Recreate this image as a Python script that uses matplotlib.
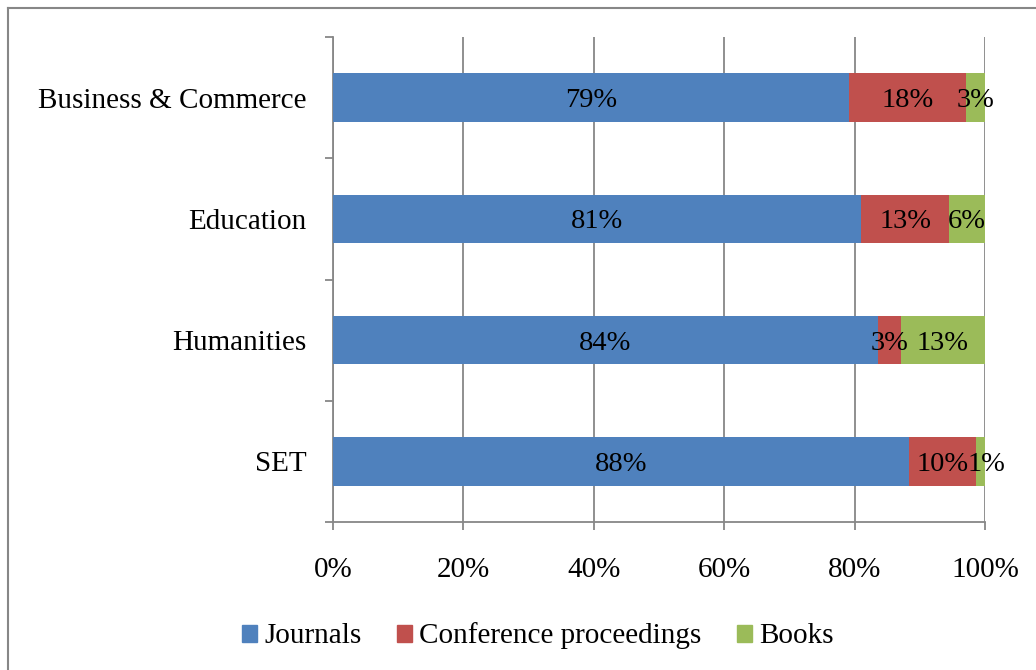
import matplotlib
matplotlib.use("Agg")
import matplotlib.pyplot as plt
from matplotlib.lines import Line2D
import numpy as np

categories = ["SET", "Humanities", "Education", "Business & Commerce"]
journals = [88.3, 83.6, 81.0, 79.1]
conference = [10.3, 3.5, 13.5, 18.0]
books = [1.4, 12.9, 5.5, 2.9]
journal_labels = ["88%", "84%", "81%", "79%"]
conference_labels = ["10%", "3%", "13%", "18%"]
book_labels = ["1%", "13%", "6%", "3%"]
series_names = ["Journals", "Conference proceedings", "Books"]
colors = ["#4F81BD", "#C0504D", "#9BBB59"]
xticks = [0, 20, 40, 60, 80, 100]
xtick_labels = ["0%", "20%", "40%", "60%", "80%", "100%"]

plt.rcParams['font.family'] = ['Liberation Serif', 'DejaVu Serif']
FS = 21

fig = plt.figure(figsize=(10.36, 6.70), dpi=100)
ax = fig.add_axes([333/1036, 1-522/670, (985-333)/1036, (522-37)/670])

data = np.array([journals, conference, books], dtype=float)
totals = data.sum(axis=0)
pct = data / totals * 100
y = np.arange(len(categories))
left = np.zeros(len(categories))
labels = [journal_labels, conference_labels, book_labels]
for i in range(3):
    bars = ax.barh(y, pct[i], left=left, height=0.4, color=colors[i],
                   label=series_names[i], zorder=3)
    for j, b in enumerate(bars):
        cx = left[j] + pct[i][j] / 2
        if pct[i][j] < 2:
            cx += 1.0
        ax.text(cx, y[j], labels[i][j], ha='center', va='center_baseline',
                fontsize=FS - 0.5, color='black', zorder=4)
    left += pct[i]

ax.set_xlim(0, 100)
ax.set_ylim(-0.5, len(categories) - 0.5)
ax.set_xticks(xticks)
ax.set_xticklabels(xtick_labels, fontsize=FS)
ax.set_yticks(y)
ax.set_yticklabels(categories, fontsize=FS)
ax.set_yticks(np.arange(-0.5, len(categories)), minor=True)
ax.tick_params(axis='y', which='major', length=0, pad=19)
ax.tick_params(axis='y', which='minor', length=6, color='#878787', width=1.3)
ax.tick_params(axis='x', which='major', length=6, color='#878787', width=1.3, pad=19)
ax.grid(axis='x', color='#878787', linewidth=1.3, zorder=0)
for s in ['top', 'right']:
    ax.spines[s].set_visible(False)
for s in ['left', 'bottom']:
    ax.spines[s].set_color('#878787')
    ax.spines[s].set_linewidth(1.3)

handles = [plt.Rectangle((0, 0), 1, 1, color=c) for c in colors]
fig.legend(handles, series_names, loc='center', bbox_to_anchor=(538/1036, 1-636/670),
           ncol=3, frameon=False, fontsize=FS, handlelength=0.52, handleheight=0.52,
           handletextpad=0.25, columnspacing=1.2)

fig.add_artist(Line2D([8/1036, 8/1036], [0, 1-8/670], color='#878787', linewidth=1.5,
                      transform=fig.transFigure))
fig.add_artist(Line2D([8/1036, 1], [1-8/670, 1-8/670], color='#878787', linewidth=1.5,
                      transform=fig.transFigure))

fig.savefig("out.png", dpi=100)
